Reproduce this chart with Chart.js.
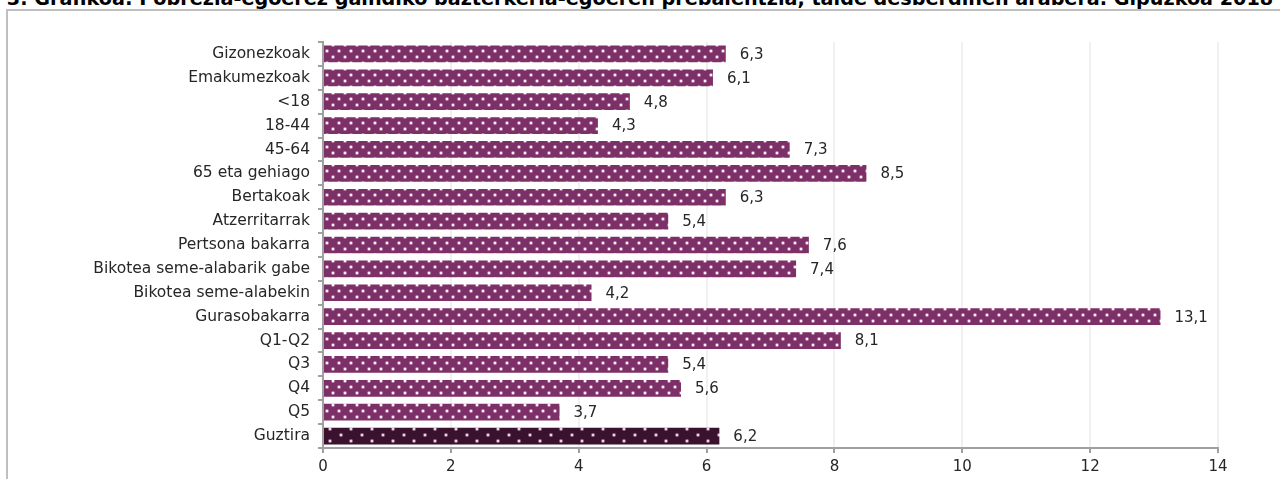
<!DOCTYPE html>
<html>
<head>
<meta charset="utf-8">
<script src="https://cdn.jsdelivr.net/npm/chart.js@4/dist/chart.umd.min.js"></script>
<style>
  html, body { margin: 0; padding: 0; background: #fff; overflow: hidden; }
  #wrap { position: relative; width: 1280px; height: 479px; }
  #title {
    position: absolute; left: 0; top: -13px; width: 1280px; text-align: center;
    font: bold 19.2px "DejaVu Sans", Verdana, sans-serif; color: #000; white-space: nowrap;
  }
  #frame {
    position: absolute; left: 6px; top: 9px; width: 1300px; height: 500px;
    border-left: 2px solid #bfbfbf; border-top: 2px solid #bfbfbf;
  }
  canvas { position: absolute; left: 0; top: 0; }
</style>
</head>
<body>
<div id="wrap">
  <div id="title">3. Grafikoa: Pobrezia-egoerez gaindiko bazterkeria-egoeren prebalentzia, talde desberdinen arabera. Gipuzkoa 2018</div>
  <div id="frame"></div>
  <canvas id="barChart" width="1280" height="479"></canvas>
</div>
<script>
// chart data
const groups = ['Gizonezkoak', 'Emakumezkoak', '<18', '18-44', '45-64', '65 eta gehiago',
  'Bertakoak', 'Atzerritarrak', 'Pertsona bakarra', 'Bikotea seme-alabarik gabe',
  'Bikotea seme-alabekin', 'Gurasobakarra', 'Q1-Q2', 'Q3', 'Q4', 'Q5', 'Guztira'];
const prevalence = [6.3, 6.1, 4.8, 4.3, 7.3, 8.5, 6.3, 5.4, 7.6, 7.4, 4.2, 13.1, 8.1, 5.4, 5.6, 3.7, 6.2];
const xTicks = [0, 2, 4, 6, 8, 10, 12, 14];

const canvas = document.getElementById('barChart');
const ctx = canvas.getContext('2d');
const fontFamily = '"DejaVu Sans", Verdana, sans-serif';

// dotted fill like the excel pattern
function dotPattern(bg, dot, w, h, pts) {
  const c = document.createElement('canvas');
  c.width = w; c.height = h;
  const p = c.getContext('2d');
  p.fillStyle = bg;
  p.fillRect(0, 0, w, h);
  pts.forEach(([x, y]) => {
    p.fillStyle = 'rgba(255,220,240,0.4)';
    p.beginPath();
    p.arc(x, y, 2.1, 0, Math.PI * 2);
    p.fill();
    p.fillStyle = dot;
    p.beginPath();
    p.arc(x, y, 1.2, 0, Math.PI * 2);
    p.fill();
  });
  return ctx.createPattern(c, 'repeat');
}
const purpleFill = dotPattern('#7d2f67', '#fff4fa', 12, 12, [[3, 3], [9, 9]]);
const darkFill = dotPattern('#3a1230', '#eadbe6', 21, 12, [[5, 3], [15, 9]]);

const valueLabels = {
  id: 'valueLabels',
  afterDatasetsDraw(chart) {
    const c = chart.ctx;
    const meta = chart.getDatasetMeta(0);
    c.save();
    c.font = '15px ' + fontFamily;
    c.fillStyle = '#262626';
    c.textBaseline = 'middle';
    meta.data.forEach((bar, i) => {
      c.fillText(prevalence[i].toFixed(1).replace('.', ','), bar.x + 14, bar.y + 1);
    });
    c.restore();
  }
};

new Chart(ctx, {
  type: 'bar',
  data: {
    labels: groups,
    datasets: [{
      data: prevalence,
      backgroundColor: prevalence.map((v, i) => i === prevalence.length - 1 ? darkFill : purpleFill),
      borderWidth: 0,
      barPercentage: 0.7,
      categoryPercentage: 1
    }]
  },
  options: {
    indexAxis: 'y',
    responsive: false,
    animation: false,
    layout: { padding: { top: 42, right: 62, left: 0, bottom: 0 } },
    plugins: { legend: { display: false }, tooltip: { enabled: false } },
    scales: {
      x: {
        min: 0, max: 14,
        afterBuildTicks: s => { s.ticks = xTicks.map(v => ({ value: v })); },
        afterFit: s => { s.height = 31; },
        grid: { color: '#f0f0f0', lineWidth: 2, tickColor: '#a0a0a0', tickLength: 5 },
        border: { color: '#a0a0a0', width: 2 },
        ticks: { color: '#262626', padding: 5, font: { family: fontFamily, size: 15 } }
      },
      y: {
        afterFit: s => { s.width = 323; },
        grid: { drawOnChartArea: false, tickColor: '#a0a0a0', tickLength: 5, lineWidth: 2 },
        border: { color: '#a0a0a0', width: 2 },
        ticks: { color: '#262626', padding: 8, autoSkip: false, font: { family: fontFamily, size: 15.5 } }
      }
    }
  },
  plugins: [valueLabels]
});
</script>
</body>
</html>
